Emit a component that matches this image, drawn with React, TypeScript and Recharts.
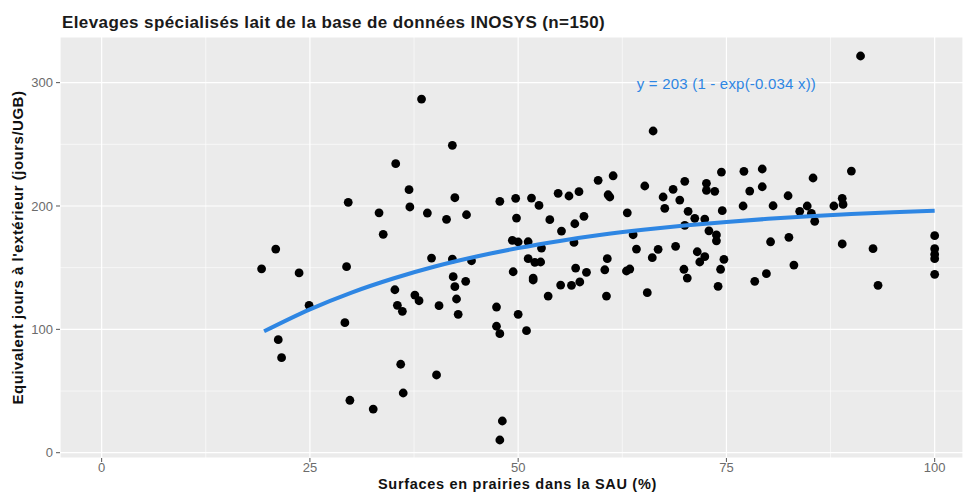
import { ScatterChart, Scatter, XAxis, YAxis, CartesianGrid, ReferenceDot } from 'recharts'

// share of grassland in the farm area (%), one value per farm
const pastureShare = [
  42.1, 35.3, 36.9, 42.4, 29.6, 33.3, 37.0, 39.1, 41.4, 43.8,
  33.8, 20.9, 19.2, 23.7, 29.4, 39.6, 42.1, 44.4, 42.2, 42.4,
  43.7, 35.2, 37.6, 42.6, 38.1, 24.9, 35.5, 36.1, 40.5, 42.8,
  47.4, 50.0, 29.2, 47.4, 47.8, 51.0, 21.2, 21.6, 35.9, 40.2,
  36.2, 29.8, 32.6, 48.1, 47.8, 51.8, 53.6, 55.1, 56.4, 57.4,
  60.6, 65.5, 61.4, 59.6, 65.2, 47.8, 49.7, 51.6, 52.5, 54.8,
  56.1, 57.3, 60.8, 61.0, 67.4, 67.6, 63.1, 49.8, 53.8, 57.9,
  56.8, 55.2, 63.8, 49.3, 50.0, 51.2, 56.7, 52.8, 64.2, 66.8,
  66.1, 51.2, 52.0, 52.7, 60.7, 56.9, 58.2, 60.4, 63.0, 63.4,
  49.4, 51.8, 74.4, 77.1, 79.3, 90.0, 85.4, 70.0, 72.6, 72.6,
  68.6, 73.6, 79.3, 77.8, 69.4, 82.4, 88.9, 89.0, 70.4, 74.5,
  77.0, 80.6, 84.7, 87.9, 83.8, 85.2, 71.2, 72.4, 85.6, 70.0,
  72.9, 73.8, 73.8, 80.3, 82.5, 88.9, 68.9, 71.5, 72.4, 71.8,
  74.7, 83.1, 69.9, 70.3, 74.3, 79.8, 78.4, 74.0, 91.1, 92.6,
  100, 100, 100, 100, 100, 93.2, 38.4, 66.2
]

// days-outside equivalent (jours/UGB), same order as above
const daysOutside = [
  249.2, 234.3, 213.2, 206.7, 203.0, 194.5, 199.2, 194.3, 189.2, 192.9,
  177.0, 165.1, 149.1, 145.7, 150.8, 157.8, 157.0, 155.6, 142.7, 134.6,
  138.9, 132.1, 127.8, 124.6, 123.2, 119.5, 119.5, 114.6, 119.2, 112.2,
  118.1, 112.2, 105.4, 102.5, 96.5, 98.9, 91.6, 77.0, 71.7, 63.0,
  48.4, 42.5, 35.4, 25.7, 10.3, 140.0, 127.0, 135.9, 135.7, 138.4,
  127.0, 129.7, 224.5, 220.8, 216.2, 203.8, 206.2, 206.4, 200.5, 210.3,
  208.1, 211.6, 209.1, 207.3, 207.3, 198.1, 194.5, 190.2, 188.9, 191.6,
  185.6, 179.7, 176.7, 172.2, 170.8, 171.0, 170.5, 165.9, 165.1, 164.9,
  158.1, 157.3, 154.3, 154.6, 157.3, 149.7, 146.2, 148.3, 147.3, 148.9,
  146.7, 141.6, 227.5, 228.1, 230.0, 228.3, 222.7, 220.0, 218.4, 212.7,
  213.5, 211.9, 215.6, 212.1, 204.8, 208.3, 206.2, 201.3, 195.7, 196.2,
  200.0, 200.2, 200.0, 200.0, 195.7, 194.0, 190.0, 189.4, 187.6, 184.3,
  179.9, 176.5, 171.8, 171.0, 174.6, 169.2, 167.3, 162.9, 158.9, 154.6,
  156.8, 152.1, 148.7, 141.6, 148.7, 145.1, 138.9, 134.9, 321.6, 165.4,
  175.9, 165.4, 160.8, 157.3, 144.6, 135.7, 286.7, 260.8
]

// fitted curve
const fitX = [19.5, 25, 30, 35, 40, 45, 50, 55, 60, 65, 70, 75, 80, 85, 90, 95, 100]
const fitY = [98.4, 116.2, 129.8, 141.2, 150.9, 159.0, 165.9, 171.7, 176.6, 180.7, 184.2, 187.1, 189.6, 191.7, 193.5, 195.0, 196.2]

const xTicks = [0, 25, 50, 75, 100]
const yTicks = [0, 100, 200, 300]
const xMinor = [12.5, 37.5, 62.5, 87.5]
const yMinor = [50, 150, 250]

const farms = pastureShare.map((x, i) => ({ x, y: daysOutside[i] }))
const fit = fitX.map((x, i) => ({ x, y: fitY[i] }))

const blue = '#2E86E3'
const font = '"Liberation Sans", Arial, Helvetica, sans-serif'

export default function App() {
  return (
    <div style={{ position: 'absolute', left: 0, top: 0, width: 963, height: 492, background: '#fff', fontFamily: font, overflow: 'hidden' }}>
      <div style={{ position: 'absolute', left: 62, top: 14, fontSize: 17, lineHeight: '17px', letterSpacing: 0.4, fontWeight: 'bold', color: '#1a1a1a', whiteSpace: 'nowrap' }}>
        Elevages spécialisés lait de la base de données INOSYS (n=150)
      </div>
      <ScatterChart width={963} height={492} margin={{ top: 37, right: 0, bottom: 0, left: 0 }}>
        <CartesianGrid fill="#EBEBEB" stroke="#fff" strokeWidth={0.6} horizontalValues={yMinor} verticalValues={xMinor} />
        <CartesianGrid stroke="#fff" strokeWidth={1.2} />
        <XAxis
          type="number"
          dataKey="x"
          domain={[-5, 103.4]}
          ticks={xTicks}
          interval={0}
          allowDataOverflow
          axisLine={false}
          tickLine={{ stroke: '#555' }}
          tickSize={4}
          tickMargin={1}
          height={34}
          tick={{ fill: '#6b6b6b', fontSize: 13 }}
          label={{ value: 'Surfaces en prairies dans la SAU (%)', position: 'insideBottom', offset: 3.5, dx: 6, fill: '#111', fontSize: 14.5, fontWeight: 'bold', style: { letterSpacing: 0.7 } }}
        />
        <YAxis
          type="number"
          dataKey="y"
          domain={[-4.3, 337]}
          ticks={yTicks}
          interval={0}
          allowDataOverflow
          axisLine={false}
          tickLine={{ stroke: '#555' }}
          tickSize={4}
          tickMargin={3}
          width={60}
          tick={{ fill: '#6b6b6b', fontSize: 13 }}
          label={{ value: "Equivalent jours à l'extérieur (jours/UGB)", angle: -90, position: 'insideLeft', offset: 18, style: { textAnchor: 'middle', letterSpacing: 0.5 }, fill: '#111', fontSize: 15, fontWeight: 'bold' }}
        />
        <Scatter
          data={farms}
          isAnimationActive={false}
          shape={(p: any) => <circle cx={p.cx} cy={p.cy} r={4.4} fill="#000" />}
        />
        <Scatter
          data={fit}
          isAnimationActive={false}
          line={{ stroke: blue, strokeWidth: 4 }}
          lineJointType="monotone"
          shape={() => <g />}
        />
        <ReferenceDot
          x={75}
          y={299}
          r={0}
          fill="none"
          stroke="none"
          label={{ value: 'y = 203 (1 - exp(-0.034 x))', position: 'center', fill: blue, fontSize: 15, style: { letterSpacing: 0.2 } }}
        />
      </ScatterChart>
    </div>
  )
}
